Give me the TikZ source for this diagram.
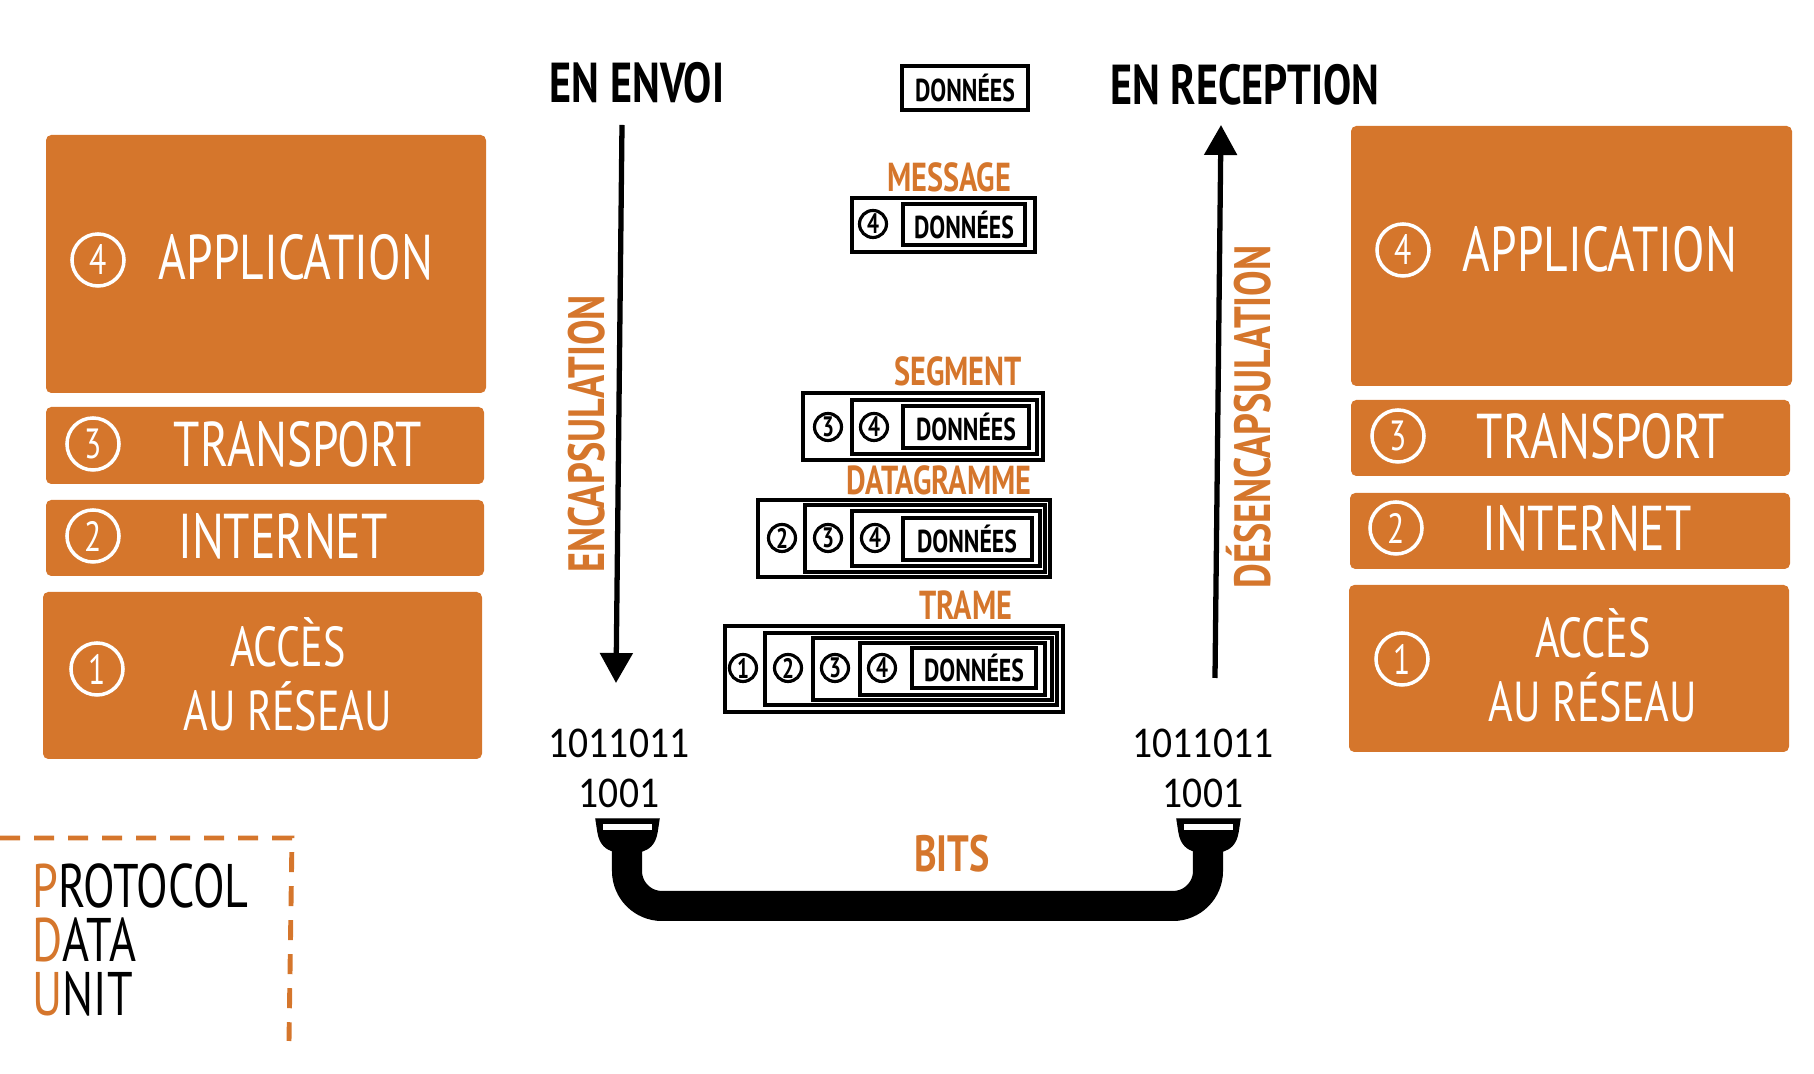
\documentclass[tikz,border=0pt]{standalone}
\usepackage{fontspec}
\setmainfont{PT Sans}
\newfontfamily\handfont[FakeStretch=0.75]{PT Sans}
\newfontfamily\bitfont[FakeStretch=0.9]{Carlito}
\usetikzlibrary{arrows.meta}

\definecolor{pduorange}{RGB}{213,118,44}

\tikzset{
  layer/.style={fill=pduorange, draw=none, rounded corners=1.5pt},
  layertext/.style={text=white, align=center, font=\handfont\fontsize{18}{18.2}\selectfont},
  wnum/.style={circle, draw=white, line width=1pt, text=white, minimum size=0.52cm, inner sep=0pt, font=\handfont\fontsize{12}{12}\selectfont},
  bnum/.style={circle, draw=black, line width=0.9pt, minimum size=0.27cm, inner sep=0pt, font=\handfont\bfseries\fontsize{8}{8}\selectfont},
  pdubox/.style={draw=black, line width=0.9pt},
  datatext/.style={font=\handfont\bfseries\fontsize{9}{9}\selectfont},
  pdulabel/.style={text=pduorange, font=\handfont\bfseries\fontsize{11.5}{11.5}\selectfont},
  sidetext/.style={font=\handfont\bfseries\fontsize{16}{16}\selectfont},
  bittext/.style={font=\bitfont\fontsize{12.5}{12.5}\selectfont},
  flow/.style={line width=1.5pt, -{Triangle[width=0.32cm,length=0.3cm]}},
  pdutext/.style={anchor=base west, align=left, inner sep=0pt, font=\handfont\fontsize{17.5}{15.4}\selectfont}
}

\begin{document}
\begin{tikzpicture}[x=0.01cm, y=-0.01cm]
  \useasboundingbox (0,0) rectangle (1814,1074);

  % left stack (sender)
  \filldraw[layer] (46,135) rectangle (486,393);
  \node[wnum] (lnum4) at (98,260) {4};
  \node[layertext] (lapp) at (296,257) {APPLICATION};
  \filldraw[layer] (46,407) rectangle (484,484);
  \node[wnum] (lnum3) at (93,444) {3};
  \node[layertext] (ltransport) at (298,444) {TRANSPORT};
  \filldraw[layer] (46,500) rectangle (484,576);
  \node[wnum] (lnum2) at (93,536) {2};
  \node[layertext] (linternet) at (283,536) {INTERNET};
  \filldraw[layer] (43,592) rectangle (482,759);
  \node[wnum] (lnum1) at (97,669) {1};
  \node[layertext, font=\handfont\fontsize{16}{18.2}\selectfont] (lacces) at (288,674) {ACCÈS\\AU RÉSEAU};

  % right stack (receiver)
  \filldraw[layer] (1351,126) rectangle (1792,386);
  \node[wnum] (rnum4) at (1403,250) {4};
  \node[layertext] (rapp) at (1600,249) {APPLICATION};
  \filldraw[layer] (1351,400) rectangle (1790,476);
  \node[wnum] (rnum3) at (1398,436) {3};
  \node[layertext] (rtransport) at (1601,436) {TRANSPORT};
  \filldraw[layer] (1350,493) rectangle (1790,569);
  \node[wnum] (rnum2) at (1396,528) {2};
  \node[layertext] (rinternet) at (1587,528) {INTERNET};
  \filldraw[layer] (1349,585) rectangle (1789,752);
  \node[wnum] (rnum1) at (1402,659) {1};
  \node[layertext, font=\handfont\fontsize{16}{18.2}\selectfont] (racces) at (1593,665) {ACCÈS\\AU RÉSEAU};

  % titles and arrows
  \node[sidetext] (envoi) at (637,83) {EN ENVOI};
  \node[sidetext] (reception) at (1245,85) {EN RECEPTION};
  \coordinate (encTop) at (622,125);
  \coordinate (encBot) at (616,683);
  \coordinate (decBot) at (1215,678);
  \coordinate (decTop) at (1221,125);
  \draw[flow] (encTop) -- (encBot);
  \draw[flow] (decBot) -- (decTop);
  \node[pdulabel, rotate=90, font=\handfont\bfseries\fontsize{14.5}{14.5}\selectfont] (encaps) at (587,434) {ENCAPSULATION};
  \node[pdulabel, rotate=90, font=\handfont\bfseries\fontsize{14.5}{14.5}\selectfont] (decaps) at (1249,417) {DÉSENCAPSULATION};

  % data alone
  \draw[pdubox] (902,66) rectangle (1028,110);
  \node[datatext] (data0) at (965,88) {DONNÉES};

  % message
  \node[pdulabel] (message) at (949,177) {MESSAGE};
  \draw[pdubox] (852,198) rectangle (1035,252);
  \draw[pdubox] (903,204) rectangle (1025,245);
  \node[bnum] (m4) at (873,224) {4};
  \node[datatext] (data1) at (964,225) {DONNÉES};

  % segment
  \node[pdulabel] (segment) at (958,371) {SEGMENT};
  \draw[pdubox] (803,393) rectangle (1043,460);
  \draw[pdubox] (852,400) rectangle (1037,454);
  \draw[pdubox] (903,406) rectangle (1029,448);
  \node[bnum] (s3) at (828,427) {3};
  \node[bnum] (s4) at (874,427) {4};
  \node[datatext] (data2) at (966,427) {DONNÉES};

  % datagramme
  \node[pdulabel] (datagramme) at (939,480) {DATAGRAMME};
  \draw[pdubox] (758,500) rectangle (1050,577);
  \draw[pdubox] (805,505) rectangle (1045,572);
  \draw[pdubox] (852,511) rectangle (1040,566);
  \draw[pdubox] (903,518) rectangle (1032,560);
  \node[bnum] (d2) at (782,538) {2};
  \node[bnum] (d3) at (828,538) {3};
  \node[bnum] (d4) at (875,538) {4};
  \node[datatext] (data3) at (967,539) {DONNÉES};

  % trame
  \node[pdulabel] (trame) at (966,605) {TRAME};
  \draw[pdubox] (725,626) rectangle (1063,712);
  \draw[pdubox] (765,633) rectangle (1057,705);
  \draw[pdubox] (813,638) rectangle (1052,700);
  \draw[pdubox] (860,643) rectangle (1045,695);
  \draw[pdubox] (912,648) rectangle (1036,688);
  \node[bnum] (t1) at (743,668) {1};
  \node[bnum] (t2) at (788,668) {2};
  \node[bnum] (t3) at (835,668) {3};
  \node[bnum] (t4) at (882,668) {4};
  \node[datatext] (data4) at (974,668) {DONNÉES};

  % bits and cable
  \node[bittext] (lbits1) at (619,743) {1011011};
  \node[bittext] (lbits2) at (619,793) {1001};
  \node[bittext] (rbits1) at (1203,743) {1011011};
  \node[bittext] (rbits2) at (1203,793) {1001};
  \coordinate (plugL) at (627,848);
  \coordinate (plugR) at (1208,848);
  \draw[line width=0.3cm, rounded corners=0.35cm] (plugL) -- (627,906) -- (1208,906) -- (plugR);
  \filldraw (596,819) -- (659,819) -- (657,832) .. controls (655,845) and (648,849) .. (642,851) -- (613,851) .. controls (607,849) and (600,845) .. (598,832) -- cycle;
  \filldraw (1177,819) -- (1240,819) -- (1238,832) .. controls (1236,845) and (1229,849) .. (1223,851) -- (1194,851) .. controls (1188,849) and (1181,845) .. (1179,832) -- cycle;
  \fill[white] (603,824) rectangle (652,830);
  \fill[white] (1184,824) rectangle (1233,830);
  \node[pdulabel, font=\handfont\bfseries\fontsize{14.5}{14.5}\selectfont] (bits) at (952,854) {BITS};

  % protocol data unit
  \draw[pduorange, line width=1.4pt, dash pattern=on 0.2cm off 0.14cm] (0,838) -- (292,838) -- (289,1041);
  \node[pdutext] (pdu) at (32,1016) {\textcolor{pduorange}{P}ROTOCOL\\\textcolor{pduorange}{D}ATA\\\textcolor{pduorange}{U}NIT};
\end{tikzpicture}
\end{document}
